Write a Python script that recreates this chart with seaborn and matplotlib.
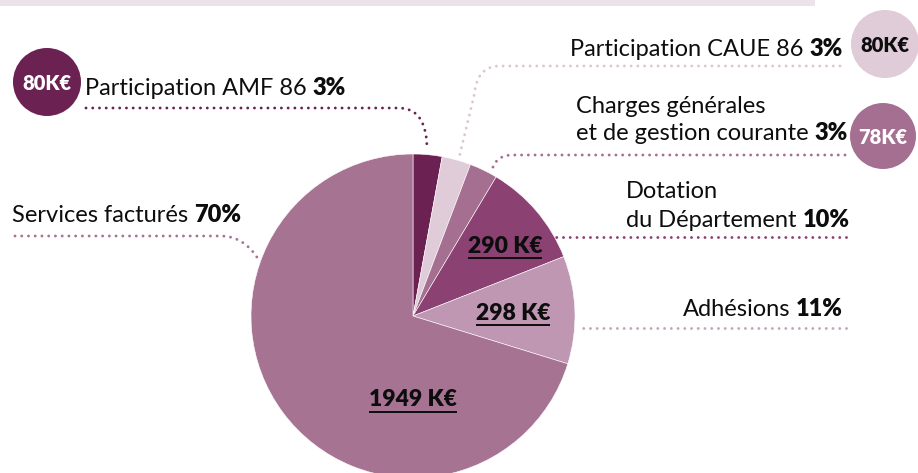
import matplotlib
matplotlib.use("Agg")
import matplotlib.pyplot as plt
import seaborn as sns
from matplotlib.path import Path
from matplotlib.patches import PathPatch, Circle, Rectangle

# --- data -------------------------------------------------------------
categories = [
    "Participation AMF 86",
    "Participation CAUE 86",
    "Charges générales\net de gestion courante",
    "Dotation\ndu Département",
    "Adhésions",
    "Services facturés",
]
amounts_k = [80, 80, 78, 290, 298, 1949]
slice_colors = ["#6b2152", "#e0cbd9", "#a56f92", "#8b4172", "#c097b3", "#a77392"]
line_colors = ["#6b2152", "#dcc6d6", "#a56f92", "#8b4172", "#c9a3bd", "#a77392"]

total = sum(amounts_k)
percents = [round(v / total * 100) for v in amounts_k]

sns.set_theme(style="white")
plt.rcParams["font.family"] = ["Lato", "DejaVu Sans"]

W, H = 918, 473
fig = plt.figure(figsize=(W / 100, H / 100), dpi=100)
ax = fig.add_axes([0, 0, 1, 1])

# pie in pixel-like coordinates (y grows downward)
CX, CY, R = 413, 316, 162
ax.pie(amounts_k, colors=slice_colors, startangle=-90, counterclock=True,
       center=(CX, CY), radius=R,
       wedgeprops=dict(edgecolor="white", linewidth=0.4))
ax.set_xlim(0, W)
ax.set_ylim(H, 0)
ax.set_aspect("equal", adjustable="box")
ax.axis("off")

# header band
ax.add_patch(Rectangle((0, 0), 815, 6, color="#ece2ea", lw=0, zorder=0))

renderer = fig.canvas.get_renderer()
FS = 17
INK = "#0d0d0d"
HEAVY = "heavy"


def text_width(t):
    bb = t.get_window_extent(renderer)
    return bb.width


def mixed_left(x, y, regular, bold, size=FS, gap=6):
    t = ax.text(x, y, regular, fontsize=size, ha="left", va="baseline", color=INK)
    w = text_width(t)
    ax.text(x + w + gap, y, bold, fontsize=size, ha="left", va="baseline",
            fontweight=HEAVY, color=INK)


def mixed_right(x, y, regular, bold, size=FS, gap=6):
    t = ax.text(x, y, bold, fontsize=size, ha="right", va="baseline",
                fontweight=HEAVY, color=INK)
    w = text_width(t)
    ax.text(x - w - gap, y, regular, fontsize=size, ha="right", va="baseline", color=INK)


def dotted(verts, codes, color):
    p = PathPatch(Path(verts, codes), fill=False, edgecolor=color, lw=2.1,
                  linestyle=(0, (0.01, 2.3)), capstyle="round", zorder=3)
    p.set_joinstyle("round")
    ax.add_patch(p)


M, L, C = Path.MOVETO, Path.LINETO, Path.CURVE4


def badge(x, y, r, color, label, tcolor):
    ax.add_patch(Circle((x, y), r, color=color, lw=0, zorder=4))
    ax.text(x, y + 1, label, fontsize=14.5, fontweight=HEAVY, color=tcolor,
            ha="center", va="center", zorder=5)


# Participation AMF 86
mixed_left(85, 95, categories[0], f"{percents[0]}%")
dotted([(86, 108), (398, 108), (418, 108), (427, 122), (427, 150)], [M, L, C, C, C], line_colors[0])
badge(47, 82, 34, slice_colors[0], f"{amounts_k[0]}K€", "white")

# Participation CAUE 86
mixed_right(843, 56, categories[1], f"{percents[1]}%")
dotted([(840, 66), (500, 66), (482, 66), (476, 78), (474, 96), (459, 158)],
       [M, L, C, C, C, L], line_colors[1])
badge(885, 44, 34, slice_colors[1], f"{amounts_k[1]}K€", INK)

# Charges générales
l1, l2 = categories[2].split("\n")
ax.text(576, 113, l1, fontsize=FS, ha="left", va="baseline", color=INK)
mixed_left(576, 140, l2, f"{percents[2]}%")
dotted([(845, 155), (512, 155), (500, 155), (494, 162), (492, 170)], [M, L, C, C, C], line_colors[2])
badge(883, 136, 33, slice_colors[2], f"{amounts_k[2]}K€", "white")

# Dotation du Département
l1, l2 = categories[3].split("\n")
ax.text(626, 198, l1, fontsize=FS, ha="left", va="baseline", color=INK)
mixed_left(626, 227, l2, f"{percents[3]}%")
dotted([(846, 237), (556, 237)], [M, L], line_colors[3])

# Adhésions
mixed_right(843, 316, categories[4], f"{percents[4]}%")
dotted([(846, 328), (578, 328)], [M, L], line_colors[4])

# Services facturés
mixed_left(12, 222, categories[5], f"{percents[5]}%")
dotted([(15, 236), (220, 236), (240, 236), (252, 248), (260, 262)], [M, L, C, C, C], line_colors[5])

# values written inside the larger slices, bold and underlined
inner = [(3, 505, 246), (4, 513, 313), (5, 413, 400)]
for idx, x, y in inner:
    t = ax.text(x, y, f"{amounts_k[idx]} K€", fontsize=16.5, fontweight=HEAVY,
                ha="center", va="center", color=INK, zorder=5)
    w = text_width(t)
    ax.plot([x - w / 2, x + w / 2], [y + 12, y + 12], color=INK, lw=1.4,
            solid_capstyle="butt", zorder=5)

fig.savefig("out.png", dpi=100)
